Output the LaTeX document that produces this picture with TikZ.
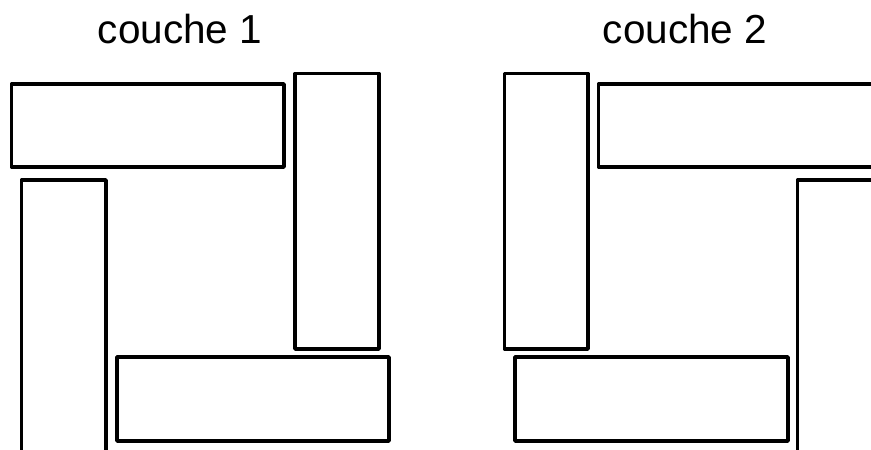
\documentclass[tikz,border=0pt]{standalone}
\usepackage{fontspec}
\setmainfont{Liberation Sans}
\begin{document}
\begin{tikzpicture}[x=1pt,y=-1pt,
  brick/.style={draw=black,line width=3.5pt,line join=round},
  label/.style={font=\fontsize{40.5}{48}\selectfont,anchor=base,inner sep=0pt}]
\useasboundingbox (0,0) rectangle (871,450);
\clip (0,0) rectangle (871,450);
% couche 1
\node[label] (t1) at (180,43) {couche 1};
\draw[brick] (11.5,84) rectangle (284,167);
\draw[brick] (295,73.5) rectangle (379,349);
\draw[brick] (21.5,180) rectangle (106,470);
\draw[brick] (117,357) rectangle (389,441);
% couche 2
\node[label] (t2) at (685,43) {couche 2};
\draw[brick] (504.5,73.5) rectangle (588,349);
\draw[brick] (598.5,84) rectangle (890,167);
\draw[brick] (797.5,180) rectangle (890,470);
\draw[brick] (515,357) rectangle (788,441);
\end{tikzpicture}
\end{document}
